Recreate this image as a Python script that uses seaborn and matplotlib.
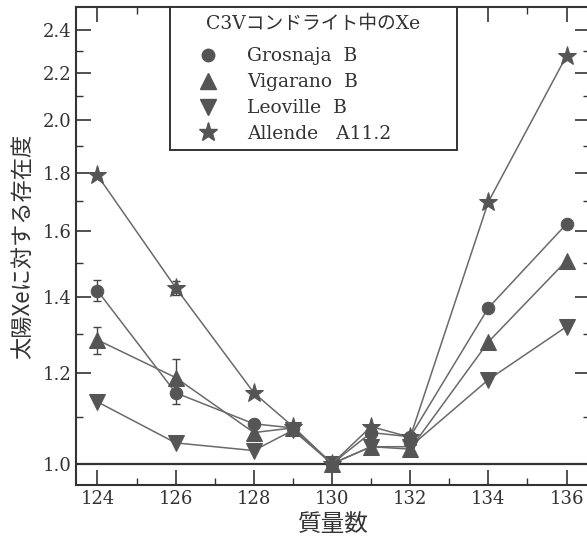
import seaborn as sns
import matplotlib.pyplot as plt
from matplotlib.lines import Line2D
from matplotlib.ticker import FixedLocator, FixedFormatter, NullFormatter
import numpy as np

# mass numbers of Xe isotopes
mass = [124, 126, 128, 129, 130, 131, 132, 134, 136]

# ratios relative to solar Xe (normalised to 130Xe)
grosnaja = [1.418, 1.154, 1.084, 1.075, 1.0, 1.065, 1.056, 1.370, 1.623]
vigarano = [1.284, 1.190, 1.065, 1.075, 1.0, 1.035, 1.030, 1.279, 1.507]
leoville = [1.133, 1.043, 1.027, 1.070, 1.0, 1.035, 1.035, 1.185, 1.319]
allende = [1.790, 1.427, 1.154, 1.078, 1.0, 1.078, 1.055, 1.697, 2.279]

# error bars (0 = none drawn)
grosnaja_err = [0.030, 0.025, 0, 0, 0, 0, 0, 0, 0]
vigarano_err = [0.035, 0.045, 0, 0, 0, 0, 0, 0, 0]
leoville_err = [0, 0, 0, 0, 0, 0, 0, 0, 0]
allende_err = [0, 0.020, 0, 0, 0, 0, 0, 0, 0]

labels = ["Grosnaja  B", "Vigarano  B", "Leoville  B", "Allende   A11.2"]
legend_title = "C3Vコンドライト中のXe"
y_ticks = [1.0, 1.2, 1.4, 1.6, 1.8, 2.0, 2.2, 2.4]
y_minor = [1.1, 1.3, 1.5, 1.7, 1.9, 2.1, 2.3]
x_ticks = [124, 126, 128, 130, 132, 134, 136]
x_minor = [125, 127, 129, 131, 133, 135]

sns.set_style("ticks")
plt.rcParams['font.family'] = ['DejaVu Serif', 'Noto Sans CJK JP']
plt.rcParams['xtick.direction'] = 'in'
plt.rcParams['ytick.direction'] = 'in'

line_col = '#6a6a6a'
mark_col = '#555555'
ink = '#333333'

fig = plt.figure(figsize=(5.87, 5.38), dpi=100)
ax = fig.add_axes([76 / 587, 1 - 485 / 538, 514 / 587, 478 / 538])

series = [
    (grosnaja, grosnaja_err, 'o', 9),
    (vigarano, vigarano_err, '^', 11),
    (leoville, leoville_err, 'v', 11),
    (allende, allende_err, '*', 14),
]

for vals, err, mk, ms in series:
    sns.lineplot(x=mass, y=vals, ax=ax, color=line_col, linewidth=1.1,
                 marker=mk, markersize=ms, markerfacecolor=mark_col,
                 markeredgecolor=mark_col, legend=False, zorder=3)
    e = np.array(err)
    sel = e > 0
    if sel.any():
        ax.errorbar(np.array(mass)[sel], np.array(vals)[sel], yerr=e[sel],
                    fmt='none', ecolor='#444444', elinewidth=1.0, capsize=3, zorder=2)

ax.axhline(1.0, color=ink, linewidth=1.6, zorder=1)

ax.set_yscale('log')
ax.set_xlim(123.45, 136.6)
ax.set_ylim(0.958, 2.515)

ax.yaxis.set_major_locator(FixedLocator(y_ticks))
ax.yaxis.set_major_formatter(FixedFormatter([f"{v:.1f}" for v in y_ticks]))
ax.yaxis.set_minor_locator(FixedLocator(y_minor))
ax.yaxis.set_minor_formatter(NullFormatter())
ax.xaxis.set_major_locator(FixedLocator(x_ticks))
ax.xaxis.set_minor_locator(FixedLocator(x_minor))

ax.tick_params(which='both', top=True, right=True, colors=ink, labelcolor=ink)
ax.tick_params(which='major', length=11, width=1.2, labelsize=13)
ax.tick_params(which='minor', length=5, width=1.0)
for sp in ax.spines.values():
    sp.set_color(ink)
    sp.set_linewidth(1.5)

ax.set_xlabel("質量数", fontsize=17, family=['Noto Sans CJK JP'], color=ink, labelpad=4)
ax.set_ylabel("太陽Xeに対する存在度", fontsize=16, family=['Noto Sans CJK JP'], color=ink, labelpad=6)

handles = [Line2D([], [], linestyle='none', marker=mk, markersize=ms,
                  markerfacecolor=mark_col, markeredgecolor=mark_col)
           for _, _, mk, ms in series]
leg = ax.legend(handles, labels, title=legend_title, loc='upper left',
                bbox_to_anchor=(0.183, 0.70, 0.558, 0.30), mode='expand',
                borderaxespad=0, fancybox=False,
                edgecolor=ink, framealpha=1, fontsize=13.5, title_fontsize=13.5,
                handlelength=3.3, handletextpad=0.4, labelspacing=0.42, borderpad=0.4)
leg.get_frame().set_linewidth(1.4)
leg._legend_box.sep += 5  # a bit more room under the title
leg.get_title().set_color(ink)
for t in leg.get_texts():
    t.set_color(ink)

fig.savefig("out.png", dpi=100)
